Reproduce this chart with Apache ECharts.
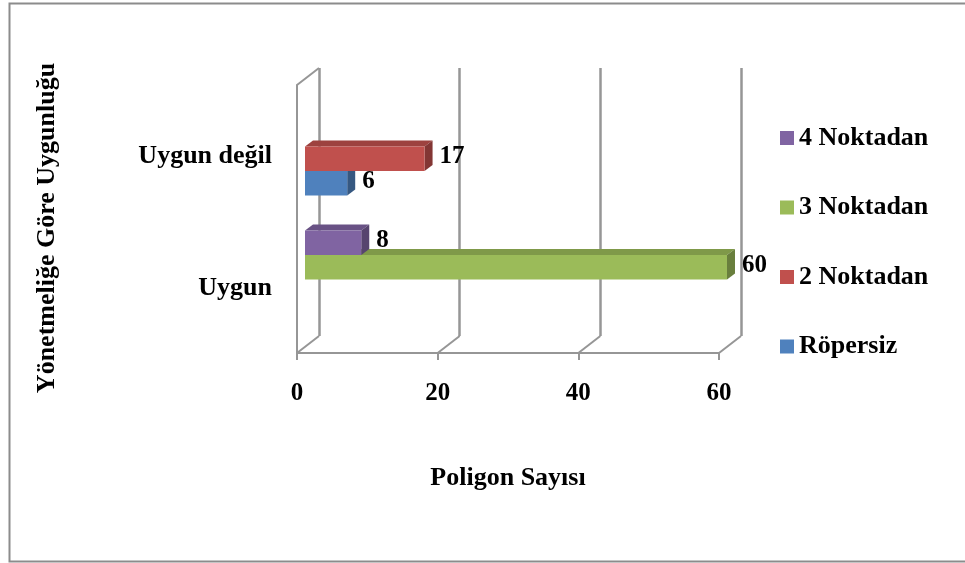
<!DOCTYPE html>
<html>
<head>
<meta charset="utf-8">
<script src="https://cdn.jsdelivr.net/npm/echarts@6/dist/echarts.min.js"></script>
<style>
  html, body { margin: 0; padding: 0; background: #ffffff; }
  #chart { width: 965px; height: 563px; }
</style>
</head>
<body>
<div id="chart"></div>
<script>
// Categories on the vertical axis (bottom to top)
const categories = ['Uygun', 'Uygun değil'];

// Series values, one per category
const ropersiz = [0, 6];
const ikiNoktadan = [0, 17];
const ucNoktadan = [60, 0];
const dortNoktadan = [8, 0];

const seriesNames = ['Röpersiz', '2 Noktadan', '3 Noktadan', '4 Noktadan'];
const seriesValues = [ropersiz, ikiNoktadan, ucNoktadan, dortNoktadan];
const legendOrder = ['4 Noktadan', '3 Noktadan', '2 Noktadan', 'Röpersiz'];

// Value axis ticks
const xTicks = [0, 20, 40, 60];
const xTitle = 'Poligon Sayısı';
const yTitle = 'Yönetmeliğe Göre Uygunluğu';

const colors = ['#4F81BD', '#C0504D', '#9BBB59', '#8064A2'];
const FONT = '"Liberation Serif", "Times New Roman", serif';
const WALL = '#969696';

// Layout of the pseudo-3D box
const FRONT = { left: 297, top: 85, width: 422, height: 268 };
const DEPTH = { x: 22, y: 17 };
const BARS = { left: 305, top: 80, width: 422, height: 266 };
const LABELS = { left: 297, top: 90, width: 422, height: 264 };
const BAR_RATIO = 0.184;     // bar thickness relative to category band
const BAR_DEPTH = { x: 8, y: 6 };

function shade(hex, f) {
  const n = parseInt(hex.slice(1), 16);
  const r = Math.round(((n >> 16) & 255) * f);
  const g = Math.round(((n >> 8) & 255) * f);
  const b = Math.round((n & 255) * f);
  return 'rgb(' + r + ',' + g + ',' + b + ')';
}

function barRenderer(slot, color) {
  return function (params, api) {
    const v = api.value(0);
    if (!v) return null;
    const cat = api.value(1);
    const band = api.size([0, 1])[1];
    const barH = band * BAR_RATIO;
    const p0 = api.coord([0, cat]);
    const p1 = api.coord([v, cat]);
    const yc = p0[1] + 1.5 * barH - slot * barH;
    const x0 = p0[0], x1 = p1[0];
    const yT = yc - barH / 2, yB = yc + barH / 2;
    const dx = BAR_DEPTH.x, dy = BAR_DEPTH.y;
    return {
      type: 'group',
      children: [
        { type: 'polygon', shape: { points: [[x0, yT], [x1, yT], [x1 + dx, yT - dy], [x0 + dx, yT - dy]] },
          style: { fill: shade(color, 0.82) } },
        { type: 'polygon', shape: { points: [[x1, yT], [x1 + dx, yT - dy], [x1 + dx, yB - dy], [x1, yB]] },
          style: { fill: shade(color, 0.68) } },
        { type: 'rect', shape: { x: x0, y: yT, width: x1 - x0, height: barH },
          style: { fill: color } },
        { type: 'text', x: x1 + dx + 7, y: yc - 2,
          style: { text: String(v), fill: '#000', font: 'bold 25px ' + FONT,
                   align: 'left', verticalAlign: 'middle' } }
      ]
    };
  };
}

const barSeries = seriesNames.map(function (name, i) {
  return {
    name: name,
    type: 'custom',
    xAxisIndex: 0,
    yAxisIndex: 0,
    itemStyle: { color: colors[i] },
    encode: { x: 0, y: 1 },
    data: seriesValues[i].map(function (val, c) { return [val, c]; }),
    renderItem: barRenderer(i, colors[i]),
    z: 10 + i
  };
});

// Floor and wall edges joining the front axis to the back wall
const edgeSeries = {
  type: 'custom',
  xAxisIndex: 1,
  yAxisIndex: 1,
  silent: true,
  encode: { x: 0 },
  data: xTicks.map(function (t) { return [t]; }),
  renderItem: function (params, api) {
    const cs = params.coordSys;
    const px = api.coord([api.value(0), 0])[0];
    const bottom = cs.y + cs.height;
    const kids = [{
      type: 'line',
      shape: { x1: px, y1: bottom, x2: px + DEPTH.x, y2: bottom - DEPTH.y },
      style: { stroke: WALL, lineWidth: 2 }
    }];
    if (api.value(0) === 0) {
      kids.push({
        type: 'line',
        shape: { x1: px, y1: cs.y, x2: px + DEPTH.x, y2: cs.y - DEPTH.y },
        style: { stroke: WALL, lineWidth: 2 }
      });
    }
    return { type: 'group', children: kids };
  },
  z: 2
};

const chart = echarts.init(document.getElementById('chart'));
chart.setOption({
  animation: false,
  backgroundColor: '#ffffff',
  color: colors,
  textStyle: { fontFamily: FONT },
  grid: [
    { left: BARS.left, top: BARS.top, width: BARS.width, height: BARS.height },
    { left: FRONT.left, top: FRONT.top, width: FRONT.width, height: FRONT.height },
    { left: FRONT.left + DEPTH.x, top: FRONT.top - DEPTH.y, width: FRONT.width, height: FRONT.height },
    { left: LABELS.left, top: LABELS.top, width: LABELS.width, height: LABELS.height }
  ],
  xAxis: [
    { gridIndex: 0, type: 'value', min: 0, max: 60, interval: 20, show: false },
    { gridIndex: 1, type: 'value', min: 0, max: 60, interval: 20,
      axisLine: { show: true, lineStyle: { color: WALL, width: 2 } },
      axisTick: { show: true, length: 7, lineStyle: { color: WALL, width: 2 } },
      splitLine: { show: false },
      axisLabel: { margin: 28, color: '#000', fontSize: 25, fontWeight: 'bold', fontFamily: FONT } },
    { gridIndex: 2, type: 'value', min: 0, max: 60, interval: 20,
      axisLine: { show: false }, axisTick: { show: false }, axisLabel: { show: false },
      splitLine: { show: true, lineStyle: { color: WALL, width: 2.5 } } },
    { gridIndex: 3, type: 'value', min: 0, max: 60, interval: 20, show: false }
  ],
  yAxis: [
    { gridIndex: 0, type: 'category', data: categories, show: false },
    { gridIndex: 1, type: 'category', data: categories,
      axisLine: { show: true, lineStyle: { color: WALL, width: 2 } },
      axisTick: { show: false },
      axisLabel: { show: false } },
    { gridIndex: 2, type: 'category', data: categories, show: false },
    { gridIndex: 3, type: 'category', data: categories,
      axisLine: { show: false }, axisTick: { show: false },
      axisLabel: { margin: 25, color: '#000', fontSize: 26, fontWeight: 'bold', fontFamily: FONT } }
  ],
  legend: {
    orient: 'vertical',
    left: 775,
    top: 120,
    itemWidth: 14,
    itemHeight: 14,
    itemGap: 43.5,
    icon: 'rect',
    data: legendOrder,
    selectedMode: false,
    textStyle: { color: '#000', fontSize: 26, fontWeight: 'bold', fontFamily: FONT }
  },
  graphic: [
    { type: 'rect', left: 7, top: 1, shape: { width: 1000, height: 558 },
      style: { fill: 'none', stroke: '#8c8c8c', lineWidth: 2 }, silent: true },
    { type: 'text', x: 508, y: 478,
      style: { text: xTitle, fill: '#000', font: 'bold 26px ' + FONT, align: 'center', verticalAlign: 'middle' } },
    { type: 'text', x: 47, y: 228, rotation: Math.PI / 2,
      style: { text: yTitle, fill: '#000', font: 'bold 26px ' + FONT, align: 'center', verticalAlign: 'middle' } }
  ],
  series: [edgeSeries].concat(barSeries)
});
</script>
</body>
</html>
